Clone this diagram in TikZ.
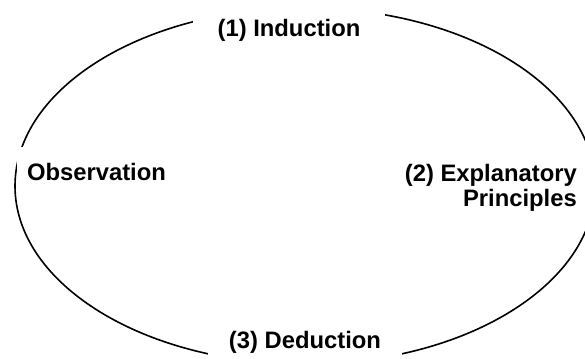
\documentclass[tikz,border=0pt]{standalone}
\usepackage{fontspec}
\setmainfont{Liberation Sans}
\begin{document}
\begin{tikzpicture}[x=1pt,y=-1pt,
  lbl/.style={font=\fontsize{23.8}{25}\selectfont\bfseries, fill=white, inner ysep=14pt},
  cycle line/.style={line width=1.6pt, draw=black}]
\useasboundingbox (0,0) rectangle (585,358);
\begin{scope}
  \clip (0,0) rectangle (585,358);
  \draw[cycle line] (305,186) ellipse [x radius=290pt, y radius=178pt];
\end{scope}
\node[lbl, anchor=base, inner xsep=24.6pt] (ind) at (289,37) {(1) Induction};
\node[lbl, anchor=base, inner xsep=21pt] (ded) at (305,348) {(3) Deduction};
\node[lbl, anchor=base, inner xsep=10pt, inner ysep=15.6pt] (obs) at (96.5,180) {Observation};
\node[lbl, anchor=north east, align=right, inner sep=0pt] (exp) at (577,163.6) {(2) Explanatory\\Principles};
\end{tikzpicture}
\end{document}
